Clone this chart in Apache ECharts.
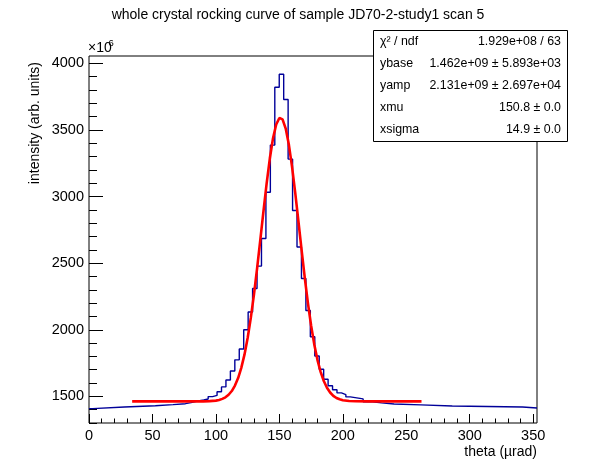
<!DOCTYPE html>
<html>
<head>
<meta charset="utf-8">
<script src="https://cdn.jsdelivr.net/npm/echarts@6/dist/echarts.min.js"></script>
<style>
html,body{margin:0;padding:0;background:#fff;}
#chart{width:596px;height:472px;}
</style>
</head>
<body>
<div id="chart"></div>
<script>
// ---- data (intensity in units of 1e6) ----
const binEdges = [0, 2.9, 27.9, 52.3, 66.2, 76, 80.4, 83.9, 87.2,
  90.4, 93.9, 97.4, 100.9, 104.4, 107.9, 111.4, 114.9, 118.4, 121.9,
  125.4, 128.9, 132.4, 135.9, 139.4, 142.9, 146.4, 149.9, 153.4, 156.9,
  160.4, 163.9, 167.4, 170.9, 174.4, 177.9, 181.4, 184.9, 188.4, 191.9,
  195.4, 198.9, 202.4, 205.9, 216, 223.4, 230.5, 240.4, 261.5, 286.2, 341.6, 353];
const binCounts = [1408, 1420, 1430, 1438, 1445, 1453, 1460, 1468, 1473,
  1480, 1498, 1507, 1535, 1571, 1623, 1690, 1774, 1855,
  2000, 2133, 2310, 2478, 2685, 3032, 3386, 3820, 3918, 3728,
  3281, 2895, 2621, 2385, 2145, 1948, 1803, 1703, 1628,
  1580, 1550, 1526, 1513, 1496, 1481, 1460, 1451, 1443, 1436, 1428, 1420, 1413];
const fitX = [34, 80, 90, 95, 100, 102.5, 105, 107.5, 110, 112.5, 115, 117.5, 120, 122.5,
  125, 127.5, 130, 132.5, 135, 137.5, 140, 142.5, 145, 147.5, 150, 150.8, 152.5, 155,
  157.5, 160, 162.5, 165, 167.5, 170, 172.5, 175, 177.5, 180, 182.5, 185, 187.5, 190,
  192.5, 195, 197.5, 200, 205, 210, 220, 262];
const fitY = [1462, 1462, 1462.5, 1464, 1468, 1473, 1481, 1493, 1512, 1540, 1581, 1637, 1714, 1813,
  1938, 2089, 2266, 2465, 2677, 2893, 3101, 3287, 3437, 3541, 3590, 3593, 3579, 3510,
  3388, 3223, 3028, 2815, 2599, 2391, 2200, 2032, 1890, 1774, 1684, 1615, 1565, 1529,
  1504, 1488, 1478, 1471, 1465, 1463, 1462, 1462];
const xMajorTicks = [0, 50, 100, 150, 200, 250, 300, 350];
const xMinorTicks = [10, 20, 30, 40, 60, 70, 80, 90, 110, 120, 130, 140, 160, 170, 180, 190,
  210, 220, 230, 240, 260, 270, 280, 290, 310, 320, 330, 340];
const yMajorTicks = [1500, 2000, 2500, 3000, 3500, 4000];
const yMinorTicks = [1300, 1400, 1600, 1700, 1800, 1900, 2100, 2200, 2300, 2400, 2600, 2700,
  2800, 2900, 3100, 3200, 3300, 3400, 3600, 3700, 3800, 3900];
const statNames = ['\u03c7\u00b2 / ndf', 'ybase', 'yamp', 'xmu', 'xsigma'];
const statValues = ['1.929e+08 / 63', '1.462e+09 \u00b1 5.893e+03', '2.131e+09 \u00b1 2.697e+04',
  '150.8 \u00b1 0.0', '14.9 \u00b1 0.0'];
const titleText = 'whole crystal rocking curve of sample JD70-2-study1 scan 5';
const xTitle = 'theta (\u00b5rad)';
const yTitle = 'intensity (arb. units)';

// ---- build ----
const FONT = '"Liberation Sans", Arial, Helvetica, sans-serif';
const histData = binEdges.map((e, i) => [e, binCounts[Math.min(i, binCounts.length - 1)]]);
const fitData = fitX.map((x, i) => [x, fitY[i]]);

const X_MIN = 0, X_MAX = 353, Y_MIN = 1300, Y_MAX = 4055;
const plain = v => String(v);

function axisBase(extra) {
  return Object.assign({
    type: 'value', splitLine: {show: false}, axisLine: {show: false}
  }, extra);
}

const graphics = [
  {type: 'text', x: 298, y: 15, style: {text: titleText, align: 'center', verticalAlign: 'middle',
    fontSize: 14, fontFamily: FONT, fill: '#000'}},
  {type: 'text', x: 537, y: 452, style: {text: xTitle, align: 'right', verticalAlign: 'middle',
    fontSize: 14, fontFamily: FONT, fill: '#000'}},
  {type: 'text', x: 35, y: 62, rotation: Math.PI / 2, style: {text: yTitle, align: 'right',
    verticalAlign: 'middle', fontSize: 14, fontFamily: FONT, fill: '#000'}},
  {type: 'text', x: 88, y: 48.5, style: {text: '\u00d710', align: 'left', verticalAlign: 'middle',
    fontSize: 14, fontFamily: FONT, fill: '#000'}},
  {type: 'text', x: 108.5, y: 43, style: {text: '6', align: 'left', verticalAlign: 'middle',
    fontSize: 9.5, fontFamily: FONT, fill: '#000'}},
  {type: 'rect', shape: {x: 373.5, y: 30.5, width: 194, height: 111}, z: 50,
    style: {fill: '#fff', stroke: '#000', lineWidth: 1}}
];
statNames.forEach((n, i) => {
  const yy = 41.5 + i * 22;
  graphics.push({type: 'text', x: 380, y: yy, z: 51, style: {text: n, align: 'left', verticalAlign: 'middle',
    fontSize: 12.4, fontFamily: FONT, fill: '#000'}});
  graphics.push({type: 'text', x: 561, y: yy, z: 51, style: {text: statValues[i], align: 'right', verticalAlign: 'middle',
    fontSize: 12.4, fontFamily: FONT, fill: '#000'}});
});

const chart = echarts.init(document.getElementById('chart'), null, {renderer: 'canvas'});
chart.setOption({
  animation: false,
  backgroundColor: '#fff',
  grid: {left: 89, top: 56, width: 448, height: 367, show: true, borderColor: '#000', borderWidth: 1,
    backgroundColor: 'transparent', containLabel: false},
  xAxis: [
    axisBase({min: X_MIN, max: X_MAX, position: 'bottom',
      axisTick: {show: true, inside: true, length: 9, customValues: xMajorTicks, lineStyle: {color: '#000', width: 1}},
      axisLabel: {show: true, customValues: xMajorTicks, formatter: plain, fontSize: 14.5, color: '#000', fontFamily: FONT, margin: 5}}),
    axisBase({min: X_MIN, max: X_MAX, position: 'bottom',
      axisTick: {show: true, inside: true, length: 4.5, customValues: xMinorTicks, lineStyle: {color: '#000', width: 1}},
      axisLabel: {show: false}})
  ],
  yAxis: [
    axisBase({min: Y_MIN, max: Y_MAX, position: 'left',
      axisTick: {show: true, inside: true, length: 14, customValues: yMajorTicks, lineStyle: {color: '#000', width: 1}},
      axisLabel: {show: true, customValues: yMajorTicks, formatter: plain, fontSize: 14.5, color: '#000', fontFamily: FONT, margin: 5}}),
    axisBase({min: Y_MIN, max: Y_MAX, position: 'left',
      axisTick: {show: true, inside: true, length: 8, customValues: yMinorTicks, lineStyle: {color: '#000', width: 1}},
      axisLabel: {show: false}})
  ],
  series: [
    {type: 'line', name: 'data', xAxisIndex: 0, yAxisIndex: 0, data: histData, step: 'end',
      showSymbol: false, symbol: 'none', lineStyle: {color: '#000099', width: 1.4}, z: 3, silent: true},
    {type: 'line', name: 'fit', xAxisIndex: 0, yAxisIndex: 0, data: fitData,
      showSymbol: false, symbol: 'none', lineStyle: {color: '#ff0000', width: 2.6}, z: 4, silent: true}
  ],
  graphic: graphics
});
</script>
</body>
</html>
